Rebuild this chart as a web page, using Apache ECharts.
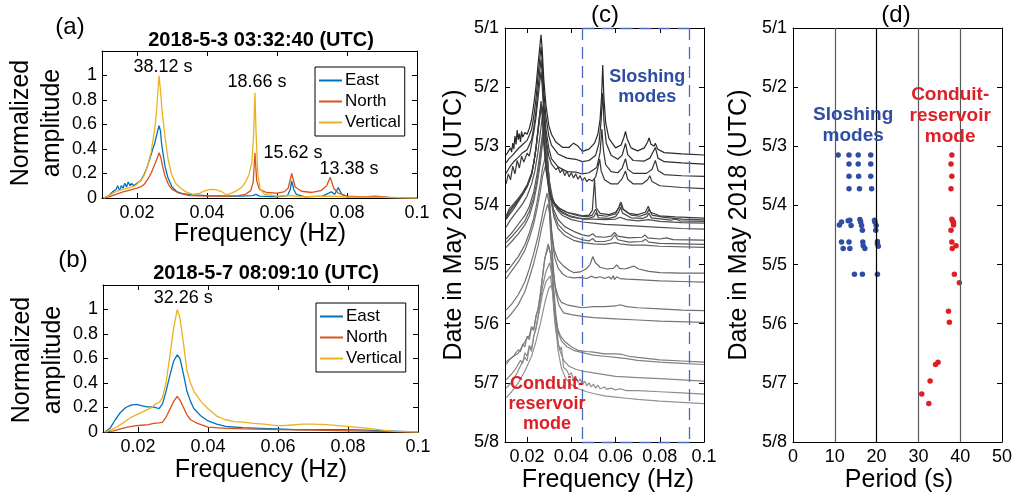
<!DOCTYPE html>
<html><head><meta charset="utf-8">
<script src="https://cdn.jsdelivr.net/npm/echarts@6/dist/echarts.min.js"></script>
<style>html,body{margin:0;padding:0;background:#fff}#c{width:1016px;height:497px}</style>
</head><body><div id="c"></div>
<script>
// ---------------- DATA ----------------
const freqTicks = [0.02, 0.04, 0.06, 0.08, 0.1];
const ampTicks = [0, 0.2, 0.4, 0.6, 0.8, 1];
const dateTicks = [1, 2, 3, 4, 5, 6, 7, 8];
const dateTickLabels = ['5/1','5/2','5/3','5/4','5/5','5/6','5/7','5/8'];
const periodTicks = [0, 10, 20, 30, 40, 50];
const periodGuideLines = [10, 20, 30, 40];
const componentNames = ['East', 'North', 'Vertical'];
const titleA = '2018-5-3 03:32:40 (UTC)';
const titleB = '2018-5-7 08:09:10 (UTC)';

// (a) spectra [frequency Hz, normalized amplitude]
const eastA = [[0.0105,0],[0.012,0.02],[0.013,0.05],[0.014,0.07],[0.0145,0.1],[0.015,0.06],[0.0155,0.1],[0.016,0.08],[0.0165,0.12],[0.017,0.09],[0.0175,0.13],[0.018,0.1],[0.0185,0.12],[0.019,0.1],[0.0195,0.11],[0.02,0.12],[0.021,0.14],[0.022,0.19],[0.023,0.26],[0.024,0.35],[0.0245,0.4],[0.025,0.44],[0.0255,0.5],[0.026,0.56],[0.0263,0.59],[0.0267,0.55],[0.027,0.45],[0.0275,0.35],[0.028,0.26],[0.0288,0.17],[0.03,0.09],[0.0315,0.05],[0.033,0.035],[0.036,0.025],[0.04,0.02],[0.045,0.015],[0.05,0.015],[0.053,0.02],[0.054,0.03],[0.055,0.015],[0.06,0.01],[0.063,0.02],[0.0638,0.07],[0.0642,0.14],[0.0648,0.07],[0.0655,0.03],[0.068,0.01],[0.073,0.015],[0.0748,0.04],[0.0755,0.05],[0.0765,0.03],[0.0775,0.085],[0.0785,0.03],[0.08,0.01],[0.09,0.005],[0.1,0]];
const northA = [[0.0105,0],[0.012,0.01],[0.014,0.03],[0.016,0.05],[0.018,0.065],[0.02,0.08],[0.021,0.09],[0.022,0.11],[0.023,0.15],[0.024,0.2],[0.025,0.27],[0.0257,0.32],[0.0263,0.37],[0.0268,0.33],[0.0273,0.26],[0.028,0.18],[0.029,0.11],[0.03,0.07],[0.032,0.04],[0.035,0.02],[0.04,0.015],[0.045,0.015],[0.049,0.02],[0.051,0.03],[0.0525,0.06],[0.0532,0.13],[0.0537,0.37],[0.0542,0.14],[0.055,0.07],[0.057,0.045],[0.06,0.04],[0.062,0.05],[0.0632,0.08],[0.0642,0.2],[0.0652,0.09],[0.067,0.055],[0.07,0.045],[0.0725,0.06],[0.0742,0.1],[0.0752,0.17],[0.0762,0.08],[0.0775,0.04],[0.0785,0.03],[0.08,0.015],[0.085,0.01],[0.088,0.015],[0.092,0.005],[0.1,0]];
const vertA = [[0.0105,0],[0.012,0.02],[0.0135,0.045],[0.015,0.065],[0.0165,0.075],[0.018,0.085],[0.0195,0.1],[0.021,0.14],[0.022,0.18],[0.023,0.26],[0.024,0.37],[0.025,0.55],[0.0255,0.68],[0.026,0.88],[0.0263,1.0],[0.0267,0.88],[0.0272,0.7],[0.028,0.5],[0.0288,0.33],[0.0298,0.2],[0.031,0.12],[0.0325,0.08],[0.034,0.05],[0.036,0.03],[0.038,0.04],[0.0395,0.06],[0.041,0.07],[0.0425,0.068],[0.044,0.055],[0.0456,0.025],[0.047,0.04],[0.0485,0.06],[0.05,0.09],[0.051,0.13],[0.052,0.19],[0.0528,0.29],[0.0533,0.5],[0.0537,0.86],[0.054,0.55],[0.0545,0.2],[0.0552,0.07],[0.0565,0.03],[0.06,0.015],[0.0645,0.02],[0.066,0.01],[0.075,0.015],[0.08,0.008],[0.09,0.005],[0.1,0]];
const annotA = [[0.0274,1.07,'38.12 s'],[0.0543,0.95,'18.66 s'],[0.0646,0.37,'15.62 s'],[0.0806,0.24,'13.38 s']];

// (b) spectra
const eastB = [[0.0105,0],[0.012,0.03],[0.0135,0.1],[0.015,0.16],[0.0165,0.2],[0.018,0.22],[0.0195,0.225],[0.021,0.215],[0.0225,0.205],[0.024,0.205],[0.025,0.2],[0.026,0.19],[0.027,0.23],[0.028,0.33],[0.029,0.45],[0.0302,0.58],[0.0312,0.63],[0.032,0.6],[0.033,0.47],[0.034,0.33],[0.035,0.25],[0.036,0.19],[0.038,0.13],[0.04,0.09],[0.0425,0.065],[0.045,0.045],[0.05,0.035],[0.055,0.03],[0.06,0.025],[0.065,0.02],[0.07,0.02],[0.075,0.02],[0.08,0.02],[0.085,0.015],[0.09,0.01],[0.095,0.005],[0.1,0]];
const northB = [[0.0105,0],[0.013,0.01],[0.015,0.025],[0.017,0.04],[0.019,0.05],[0.021,0.055],[0.023,0.06],[0.0245,0.07],[0.026,0.075],[0.027,0.08],[0.028,0.12],[0.029,0.18],[0.0302,0.25],[0.0312,0.29],[0.032,0.26],[0.033,0.2],[0.034,0.14],[0.035,0.1],[0.037,0.07],[0.04,0.04],[0.045,0.03],[0.05,0.025],[0.06,0.02],[0.07,0.015],[0.08,0.01],[0.09,0.005],[0.1,0]];
const vertB = [[0.0105,0],[0.0125,0.02],[0.0135,0.035],[0.015,0.06],[0.0165,0.09],[0.018,0.12],[0.0195,0.14],[0.021,0.16],[0.0225,0.18],[0.024,0.2],[0.025,0.23],[0.026,0.24],[0.027,0.28],[0.028,0.4],[0.029,0.6],[0.0302,0.85],[0.0312,1.0],[0.032,0.93],[0.033,0.72],[0.034,0.5],[0.035,0.4],[0.036,0.33],[0.038,0.25],[0.04,0.19],[0.0425,0.13],[0.045,0.1],[0.0475,0.085],[0.05,0.08],[0.053,0.07],[0.056,0.065],[0.06,0.05],[0.063,0.055],[0.067,0.065],[0.07,0.065],[0.074,0.06],[0.078,0.05],[0.082,0.04],[0.086,0.03],[0.09,0.015],[0.093,0.005],[0.1,0]];
const annotB = [[0.0329,1.095,'32.26 s']];

// (c) stacked spectra: event time (day of May) and [frequency, offset in days]
const eventDays = [3.147,3.30,3.508,3.717,4.235,4.263,4.29,4.33,4.42,4.618,4.68,4.73,5.165,5.306,5.79,5.977,6.65,6.69,6.97,7.19,7.35];
const spec01 = [[0.0105,0],[0.0115,0.06],[0.0125,0.12],[0.013,0.05],[0.0135,0.2],[0.014,0.1],[0.0145,0.32],[0.015,0.18],[0.0155,0.42],[0.016,0.26],[0.0165,0.36],[0.017,0.22],[0.0175,0.4],[0.018,0.3],[0.019,0.38],[0.02,0.35],[0.021,0.45],[0.022,0.6],[0.023,0.85],[0.024,1.15],[0.025,1.55],[0.0258,1.85],[0.0263,2.03],[0.0268,1.8],[0.0275,1.3],[0.0285,0.85],[0.0298,0.5],[0.031,0.35],[0.033,0.22],[0.036,0.13],[0.039,0.13],[0.041,0.2],[0.043,0.15],[0.045,0.06],[0.048,0.1],[0.0505,0.2],[0.052,0.35],[0.053,0.6],[0.0537,1.0],[0.0542,1.52],[0.0547,1.0],[0.0555,0.55],[0.057,0.28],[0.06,0.12],[0.0625,0.17],[0.0638,0.3],[0.0645,0.4],[0.0652,0.28],[0.067,0.12],[0.07,0.07],[0.073,0.12],[0.0745,0.22],[0.0752,0.29],[0.076,0.18],[0.0775,0.15],[0.078,0.2],[0.079,0.1],[0.082,0.04],[0.09,0.02],[0.1,0]];
const spec02 = [[0.0105,0.02],[0.012,0.1],[0.0135,0.15],[0.015,0.22],[0.0165,0.28],[0.018,0.33],[0.02,0.4],[0.022,0.58],[0.023,0.8],[0.024,1.1],[0.025,1.5],[0.0258,1.8],[0.0263,1.98],[0.0268,1.75],[0.0275,1.25],[0.0285,0.8],[0.0298,0.48],[0.031,0.32],[0.034,0.17],[0.038,0.1],[0.042,0.08],[0.045,0.04],[0.048,0.06],[0.051,0.15],[0.0525,0.35],[0.0535,0.75],[0.0542,1.2],[0.0548,0.7],[0.0558,0.35],[0.058,0.15],[0.061,0.08],[0.063,0.15],[0.0645,0.35],[0.0655,0.16],[0.068,0.06],[0.073,0.05],[0.0755,0.1],[0.078,0.28],[0.0792,0.1],[0.082,0.04],[0.09,0.02],[0.1,0]];
const spec03 = [[0.0105,0.05],[0.012,0.15],[0.014,0.25],[0.016,0.32],[0.018,0.4],[0.02,0.45],[0.022,0.62],[0.023,0.82],[0.024,1.1],[0.025,1.5],[0.0258,1.8],[0.0263,1.98],[0.0268,1.75],[0.0275,1.25],[0.0285,0.8],[0.0298,0.48],[0.031,0.3],[0.034,0.16],[0.038,0.08],[0.042,0.07],[0.045,0.04],[0.048,0.06],[0.0515,0.15],[0.053,0.4],[0.0538,0.8],[0.0545,0.45],[0.0555,0.2],[0.058,0.08],[0.061,0.06],[0.063,0.14],[0.0645,0.3],[0.0655,0.12],[0.068,0.05],[0.074,0.05],[0.0765,0.12],[0.078,0.27],[0.0792,0.1],[0.082,0.03],[0.09,0.01],[0.1,0]];
const spec04 = [[0.0105,0.08],[0.0115,0.25],[0.0125,0.15],[0.0135,0.38],[0.0145,0.25],[0.0155,0.48],[0.0165,0.35],[0.0175,0.55],[0.0185,0.45],[0.02,0.6],[0.021,0.55],[0.022,0.75],[0.023,0.95],[0.024,1.2],[0.025,1.55],[0.0258,1.82],[0.0263,1.98],[0.0268,1.75],[0.0275,1.3],[0.0285,0.85],[0.0298,0.55],[0.031,0.42],[0.033,0.32],[0.034,0.36],[0.035,0.27],[0.036,0.33],[0.037,0.22],[0.038,0.3],[0.039,0.2],[0.04,0.27],[0.041,0.18],[0.042,0.25],[0.043,0.16],[0.044,0.22],[0.045,0.13],[0.046,0.19],[0.047,0.12],[0.048,0.16],[0.0495,0.13],[0.051,0.2],[0.052,0.35],[0.0528,0.5],[0.0535,0.3],[0.055,0.15],[0.058,0.08],[0.061,0.08],[0.063,0.17],[0.0645,0.3],[0.0655,0.16],[0.068,0.08],[0.072,0.08],[0.0745,0.15],[0.0755,0.22],[0.0765,0.12],[0.08,0.05],[0.09,0.02],[0.1,0]];
const spec05 = [[0.0105,0],[0.012,0.08],[0.014,0.18],[0.016,0.3],[0.018,0.42],[0.02,0.55],[0.022,0.75],[0.023,0.95],[0.024,1.2],[0.025,1.55],[0.0258,1.82],[0.0263,2.0],[0.0268,1.78],[0.0275,1.3],[0.0285,0.85],[0.0298,0.5],[0.031,0.33],[0.034,0.2],[0.038,0.12],[0.042,0.09],[0.045,0.06],[0.048,0.07],[0.0495,0.15],[0.0505,0.68],[0.0512,0.2],[0.053,0.1],[0.057,0.08],[0.06,0.12],[0.0615,0.2],[0.0622,0.28],[0.063,0.18],[0.066,0.1],[0.07,0.08],[0.0735,0.12],[0.0748,0.22],[0.0758,0.12],[0.08,0.06],[0.087,0.04],[0.1,0.02]];
const spec06 = [[0.0105,0.05],[0.012,0.15],[0.014,0.25],[0.016,0.35],[0.018,0.45],[0.02,0.58],[0.022,0.78],[0.023,0.98],[0.024,1.22],[0.025,1.55],[0.0258,1.82],[0.0265,1.98],[0.027,1.78],[0.0278,1.3],[0.0288,0.85],[0.03,0.52],[0.032,0.32],[0.035,0.2],[0.039,0.13],[0.043,0.09],[0.047,0.07],[0.0495,0.1],[0.051,0.2],[0.052,0.1],[0.056,0.08],[0.06,0.12],[0.0618,0.25],[0.0625,0.32],[0.0635,0.2],[0.067,0.1],[0.071,0.08],[0.074,0.12],[0.0752,0.2],[0.0765,0.1],[0.082,0.06],[0.09,0.03],[0.1,0.02]];
const spec07 = [[0.0105,0.1],[0.012,0.2],[0.014,0.3],[0.016,0.4],[0.018,0.5],[0.02,0.62],[0.022,0.82],[0.023,1.0],[0.024,1.25],[0.025,1.58],[0.0258,1.85],[0.0265,2.0],[0.027,1.8],[0.0278,1.32],[0.0288,0.88],[0.03,0.55],[0.032,0.34],[0.035,0.2],[0.039,0.12],[0.043,0.08],[0.047,0.06],[0.0502,0.1],[0.0512,0.17],[0.0522,0.08],[0.057,0.07],[0.06,0.1],[0.0615,0.18],[0.0622,0.26],[0.0632,0.16],[0.067,0.08],[0.072,0.07],[0.0742,0.1],[0.075,0.16],[0.0762,0.08],[0.085,0.04],[0.087,0.06],[0.089,0.03],[0.1,0.02]];
const spec08 = [[0.0105,0.15],[0.012,0.28],[0.014,0.36],[0.016,0.45],[0.018,0.55],[0.02,0.68],[0.022,0.88],[0.023,1.05],[0.024,1.3],[0.025,1.6],[0.026,1.88],[0.0268,2.0],[0.0275,1.8],[0.0283,1.3],[0.0293,0.85],[0.0305,0.52],[0.0325,0.32],[0.036,0.2],[0.04,0.13],[0.045,0.1],[0.05,0.1],[0.055,0.09],[0.06,0.1],[0.062,0.13],[0.065,0.09],[0.07,0.07],[0.075,0.09],[0.08,0.06],[0.09,0.04],[0.1,0.03]];
const spec09 = [[0.0105,0.05],[0.012,0.15],[0.014,0.25],[0.016,0.35],[0.018,0.45],[0.02,0.58],[0.022,0.78],[0.0235,1.0],[0.0248,1.3],[0.026,1.65],[0.0268,1.9],[0.0273,2.0],[0.028,1.75],[0.029,1.25],[0.03,0.85],[0.0315,0.55],[0.0335,0.35],[0.036,0.25],[0.04,0.18],[0.045,0.14],[0.05,0.12],[0.055,0.1],[0.06,0.09],[0.07,0.07],[0.08,0.05],[0.09,0.03],[0.1,0.02]];
const spec10 = [[0.0105,0.05],[0.013,0.15],[0.016,0.3],[0.019,0.45],[0.021,0.6],[0.023,0.85],[0.0245,1.15],[0.026,1.55],[0.027,1.85],[0.0277,2.0],[0.0285,1.75],[0.0295,1.25],[0.0305,0.85],[0.032,0.55],[0.034,0.38],[0.037,0.26],[0.041,0.18],[0.045,0.12],[0.048,0.1],[0.0497,0.14],[0.051,0.09],[0.055,0.08],[0.058,0.1],[0.0595,0.16],[0.061,0.1],[0.066,0.07],[0.072,0.08],[0.0733,0.12],[0.0745,0.07],[0.08,0.05],[0.083,0.07],[0.086,0.04],[0.1,0.03]];
const spec11 = [[0.0105,0.05],[0.013,0.15],[0.016,0.28],[0.019,0.42],[0.021,0.58],[0.023,0.82],[0.0245,1.1],[0.026,1.5],[0.027,1.82],[0.0278,2.0],[0.0286,1.75],[0.0296,1.25],[0.0306,0.85],[0.032,0.55],[0.034,0.36],[0.037,0.24],[0.041,0.15],[0.045,0.1],[0.048,0.08],[0.0497,0.12],[0.051,0.07],[0.055,0.07],[0.058,0.1],[0.0597,0.18],[0.061,0.1],[0.066,0.06],[0.072,0.07],[0.0735,0.11],[0.075,0.06],[0.08,0.04],[0.1,0.02]];
const spec12 = [[0.0105,0.02],[0.013,0.12],[0.016,0.25],[0.019,0.4],[0.021,0.55],[0.023,0.8],[0.0245,1.08],[0.026,1.45],[0.027,1.8],[0.028,2.0],[0.0288,1.75],[0.0298,1.25],[0.0308,0.82],[0.0322,0.52],[0.034,0.34],[0.037,0.22],[0.041,0.14],[0.045,0.1],[0.05,0.08],[0.055,0.07],[0.06,0.1],[0.062,0.08],[0.067,0.06],[0.073,0.06],[0.08,0.04],[0.1,0.02]];
const spec13 = [[0.0105,0.03],[0.013,0.15],[0.016,0.3],[0.019,0.5],[0.021,0.7],[0.023,0.95],[0.0245,1.22],[0.026,1.55],[0.027,1.8],[0.0283,2.0],[0.0292,1.8],[0.03,1.3],[0.031,0.75],[0.0322,0.42],[0.034,0.24],[0.0365,0.14],[0.039,0.07],[0.041,0.03],[0.044,0.04],[0.047,0.1],[0.0485,0.17],[0.0497,0.3],[0.0508,0.2],[0.053,0.12],[0.056,0.09],[0.059,0.1],[0.0605,0.16],[0.0618,0.1],[0.064,0.09],[0.066,0.11],[0.0682,0.14],[0.0705,0.09],[0.075,0.05],[0.08,0.03],[0.09,0.02],[0.1,0.02]];
const spec14 = [[0.0105,0.07],[0.013,0.2],[0.016,0.35],[0.019,0.55],[0.021,0.75],[0.023,1.0],[0.0245,1.25],[0.026,1.55],[0.027,1.8],[0.0285,2.0],[0.0295,1.8],[0.0303,1.3],[0.0313,0.75],[0.0325,0.42],[0.034,0.25],[0.036,0.15],[0.038,0.1],[0.041,0.08],[0.044,0.09],[0.047,0.07],[0.049,0.11],[0.051,0.08],[0.053,0.1],[0.055,0.07],[0.057,0.1],[0.058,0.06],[0.059,0.12],[0.0595,0.05],[0.0605,0.1],[0.062,0.07],[0.065,0.06],[0.07,0.05],[0.08,0.03],[0.09,0.02],[0.1,0.01]];
const spec15 = [[0.0105,0.02],[0.013,0.12],[0.016,0.28],[0.019,0.5],[0.021,0.72],[0.023,0.98],[0.025,1.28],[0.0265,1.55],[0.0278,1.8],[0.029,2.0],[0.0298,1.85],[0.0305,1.4],[0.0315,0.8],[0.0325,0.45],[0.034,0.25],[0.0355,0.15],[0.038,0.11],[0.042,0.08],[0.045,0.06],[0.05,0.08],[0.055,0.08],[0.06,0.09],[0.062,0.11],[0.065,0.08],[0.07,0.06],[0.08,0.04],[0.09,0.02],[0.1,0.01]];
const spec16 = [[0.0105,0.05],[0.013,0.15],[0.016,0.3],[0.019,0.52],[0.021,0.75],[0.023,1.0],[0.025,1.3],[0.0265,1.58],[0.028,1.82],[0.0293,2.0],[0.0302,1.85],[0.031,1.4],[0.032,0.85],[0.033,0.5],[0.0345,0.28],[0.0365,0.16],[0.04,0.13],[0.045,0.1],[0.05,0.08],[0.06,0.06],[0.07,0.04],[0.08,0.02],[0.1,0]];
const spec17 = [[0.0105,0],[0.012,0.05],[0.014,0.1],[0.016,0.15],[0.018,0.28],[0.0195,0.38],[0.021,0.45],[0.022,0.6],[0.023,0.55],[0.024,0.78],[0.025,0.9],[0.026,1.15],[0.027,1.45],[0.028,1.75],[0.0295,2.0],[0.0305,1.85],[0.0315,1.4],[0.0325,0.9],[0.0335,0.6],[0.035,0.45],[0.037,0.35],[0.04,0.26],[0.043,0.2],[0.047,0.18],[0.05,0.17],[0.055,0.14],[0.06,0.14],[0.063,0.13],[0.066,0.1],[0.07,0.08],[0.08,0.04],[0.09,0.02],[0.1,0]];
const spec18 = [[0.0105,0],[0.012,0.08],[0.014,0.15],[0.016,0.25],[0.017,0.22],[0.018,0.35],[0.019,0.3],[0.02,0.48],[0.021,0.42],[0.022,0.62],[0.023,0.58],[0.024,0.8],[0.025,0.95],[0.026,1.2],[0.027,1.5],[0.028,1.8],[0.0298,2.0],[0.031,1.8],[0.032,1.3],[0.033,0.85],[0.034,0.55],[0.0355,0.4],[0.038,0.3],[0.041,0.24],[0.045,0.2],[0.05,0.16],[0.055,0.14],[0.06,0.12],[0.065,0.1],[0.07,0.07],[0.08,0.04],[0.09,0.02],[0.1,0]];
const spec19 = [[0.0105,0.02],[0.013,0.12],[0.015,0.22],[0.017,0.35],[0.018,0.3],[0.019,0.48],[0.02,0.42],[0.021,0.6],[0.022,0.55],[0.023,0.75],[0.024,0.9],[0.025,1.1],[0.026,1.35],[0.027,1.6],[0.0285,1.85],[0.0302,2.0],[0.0312,1.8],[0.032,1.3],[0.033,0.85],[0.0345,0.55],[0.0365,0.35],[0.039,0.25],[0.042,0.2],[0.045,0.17],[0.05,0.14],[0.055,0.11],[0.06,0.08],[0.07,0.06],[0.08,0.04],[0.09,0.02],[0.1,0]];
const spec20 = [[0.0105,0.1],[0.013,0.2],[0.015,0.32],[0.017,0.48],[0.019,0.62],[0.02,0.56],[0.021,0.8],[0.022,0.72],[0.023,0.98],[0.024,1.1],[0.025,1.3],[0.026,1.5],[0.027,1.7],[0.0285,1.9],[0.0305,2.0],[0.0315,1.75],[0.0323,1.3],[0.033,1.1],[0.0335,1.2],[0.034,0.85],[0.035,0.75],[0.0355,0.8],[0.0365,0.45],[0.038,0.4],[0.039,0.32],[0.04,0.36],[0.041,0.25],[0.042,0.3],[0.043,0.2],[0.044,0.26],[0.045,0.17],[0.046,0.22],[0.047,0.14],[0.048,0.19],[0.049,0.12],[0.05,0.17],[0.051,0.1],[0.052,0.15],[0.053,0.09],[0.055,0.12],[0.056,0.08],[0.058,0.1],[0.06,0.07],[0.062,0.09],[0.065,0.06],[0.07,0.06],[0.08,0.04],[0.09,0.02],[0.1,0]];
const spec21 = [[0.0105,0.1],[0.013,0.2],[0.016,0.35],[0.019,0.55],[0.022,0.8],[0.024,1.05],[0.026,1.35],[0.028,1.7],[0.0298,1.95],[0.031,2.0],[0.032,1.75],[0.033,1.3],[0.034,0.9],[0.0355,0.6],[0.0375,0.42],[0.04,0.32],[0.043,0.25],[0.047,0.2],[0.05,0.17],[0.055,0.13],[0.06,0.11],[0.065,0.09],[0.07,0.07],[0.08,0.04],[0.09,0.02],[0.1,0]];
const stackedSpectra = [spec01,spec02,spec03,spec04,spec05,spec06,spec07,spec08,spec09,spec10,spec11,spec12,spec13,spec14,spec15,spec16,spec17,spec18,spec19,spec20,spec21];
const sloshingBand = [0.045, 0.0935];

// (d) picked periods [period s, day of May]
const sloshingPeriods = [[10.8,3.147],[13.4,3.147],[15.6,3.147],[18.6,3.147],[13.4,3.30],[15.6,3.30],[18.6,3.30],[13.4,3.508],[15.7,3.508],[18.6,3.508],[13.4,3.717],[15.9,3.717],[18.8,3.717],
 [11.1,4.33],[11.6,4.28],[13.2,4.26],[13.6,4.25],[13.9,4.34],[16.0,4.24],[16.2,4.28],[16.4,4.34],[16.6,4.42],[19.5,4.25],[19.6,4.28],[19.9,4.34],[19.8,4.42],
 [11.6,4.62],[13.4,4.62],[12.0,4.73],[13.6,4.73],[16.7,4.62],[16.8,4.68],[17.2,4.73],[20.2,4.61],[20.2,4.65],[20.4,4.69],
 [14.7,5.165],[16.6,5.165],[20.2,5.165]];
const conduitPeriods = [[38.0,3.147],[37.8,3.30],[38.0,3.508],[37.8,3.717],[38.0,4.235],[38.2,4.263],[38.4,4.29],[38.4,4.33],[37.8,4.42],[38.0,4.618],[39.0,4.68],[38.1,4.73],[38.6,5.165],[39.8,5.306],[37.2,5.79],[37.4,5.977],[34.7,6.65],[34.1,6.69],[32.8,6.97],[30.8,7.19],[32.5,7.35]];

// text annotations anchored at data coordinates
const textC = [[0.0743,2.0,'Sloshing\nmodes','blue'],[0.029,7.35,'Conduit-\nreservoir\nmode','red']];
const textD = [[14.4,2.64,'Sloshing\nmodes','blue'],[37.6,2.49,'Conduit-\nreservoir\nmode','red']];

// ---------------- STYLE ----------------
const FONT = '"Liberation Sans", Arial, Helvetica, sans-serif';
const COLORS = {East:'#0072BD', North:'#D95319', Vertical:'#EDB120', blue:'#2F4EA3', red:'#DD1F26', dash:'#4A6CC0'};

const grids = [
  {left:102, top:51, width:315, height:147},
  {left:103, top:285, width:315, height:147},
  {left:505, top:28, width:199, height:414},
  {left:793, top:28, width:209, height:414}
];

function fmtFreq(v){ return Math.abs(v-0.1)<1e-9 ? '0.1' : v.toFixed(2); }
function axisBase(gridIndex, position, showLabel){
  return {
    gridIndex, position,
    axisLine:{show:true, onZero:false, lineStyle:{color:'#000', width:1}},
    axisTick:{show:true, inside:true, length:5, lineStyle:{color:'#000', width:1}},
    axisLabel:{show:showLabel, fontSize:18, color:'#000', fontFamily:FONT, margin:6, hideOverlap:false, showMinLabel:true, showMaxLabel:true},
    splitLine:{show:false}
  };
}
function freqX(gi, pos, show){
  const a = axisBase(gi, pos, show);
  a.type='value'; a.min=0.01; a.max=0.1;
  a.axisTick.customValues = freqTicks;
  a.axisLabel.customValues = freqTicks;
  a.axisLabel.formatter = fmtFreq;
  return a;
}
function ampY(gi, pos, show){
  const a = axisBase(gi, pos, show);
  a.type='value'; a.min=0; a.max=1.2;
  a.axisTick.customValues = ampTicks;
  a.axisLabel.customValues = ampTicks;
  a.axisLabel.formatter = v => String(+v.toFixed(1));
  a.axisLabel.margin = 5;
  return a;
}
function dateY(gi, pos, show){
  const a = axisBase(gi, pos, show);
  a.type='value'; a.min=1; a.max=8; a.interval=1; a.inverse=true;
  a.axisLabel.formatter = v => dateTickLabels[dateTicks.indexOf(Math.round(v))] || '';
  return a;
}
function periodX(gi, pos, show){
  const a = axisBase(gi, pos, show);
  a.type='value'; a.min=0; a.max=50; a.interval=10;
  a.axisTick.show = pos==='bottom';
  return a;
}

const xAxis = [freqX(0,'bottom',true), freqX(0,'top',false), freqX(1,'bottom',true), freqX(1,'top',false),
               freqX(2,'bottom',true), freqX(2,'top',false), periodX(3,'bottom',true), periodX(3,'top',false)];
const yAxis = [ampY(0,'left',true), ampY(0,'right',false), ampY(1,'left',true), ampY(1,'right',false),
               dateY(2,'left',true), dateY(2,'right',false), dateY(3,'left',true), dateY(3,'right',false)];

const series = [];
function specSeries(name, data, xi, yi){
  return {type:'line', name, data, xAxisIndex:xi, yAxisIndex:yi, showSymbol:false, symbol:'none',
    lineStyle:{width:1.3, color:COLORS[name]}, itemStyle:{color:COLORS[name]}, silent:true, z:3};
}
[['East',eastA],['North',northA],['Vertical',vertA]].forEach(([n,d]) => series.push(specSeries(n,d,0,0)));
const idxA = 0;
[['East',eastB],['North',northB],['Vertical',vertB]].forEach(([n,d]) => series.push(specSeries(n,d,2,2)));
const idxB = 3;

// (c) stacked spectra, latest first so earliest (darkest) on top
const idxC = series.length;
for (let i = stackedSpectra.length - 1; i >= 0; i--) {
  const base = eventDays[i];
  const g = Math.round(40 + i * 5.3);
  const col = 'rgb(' + g + ',' + g + ',' + g + ')';
  series.push({type:'line', data: stackedSpectra[i].map(p => [p[0], base - p[1]]),
    xAxisIndex:4, yAxisIndex:4, showSymbol:false, symbol:'none', silent:true,
    lineStyle:{width:1.2, color:col}, z:2});
}
// sloshing band dashed box
series.push({type:'line', data:[], xAxisIndex:4, yAxisIndex:4, silent:true, z:5,
  markLine:{silent:true, symbol:'none', label:{show:false}, animation:false,
    lineStyle:{type:[12,7], color:COLORS.dash, width:1.3},
    data:[
      [{coord:[sloshingBand[0],1]},{coord:[sloshingBand[0],8]}],
      [{coord:[sloshingBand[1],1]},{coord:[sloshingBand[1],8]}],
      [{coord:[sloshingBand[0],1]},{coord:[sloshingBand[1],1]}],
      [{coord:[sloshingBand[0],8]},{coord:[sloshingBand[1],8]}]
    ]}});

// (d)
const idxD = series.length;
series.push({type:'scatter', data:sloshingPeriods, xAxisIndex:6, yAxisIndex:6, symbolSize:5.5, silent:true,
  itemStyle:{color:COLORS.blue, opacity:1}, z:4,
  markLine:{silent:true, symbol:'none', label:{show:false}, animation:false,
    data: periodGuideLines.map(v => ({xAxis:v, lineStyle:{type:'solid', width:1.2, color: v===20 ? '#000' : '#5a5a5a'}}))}});
series.push({type:'scatter', data:conduitPeriods, xAxisIndex:6, yAxisIndex:6, symbolSize:5.5, silent:true,
  itemStyle:{color:COLORS.red, opacity:1}, z:4});

function legendAt(left, top){
  return {left, top, orient:'vertical', data:componentNames, icon:'rect', itemWidth:23, itemHeight:2, itemGap:4,
    padding:[5,4,5,4], borderColor:'#000', borderWidth:1, backgroundColor:'#fff', selectedMode:false,
    textStyle:{fontSize:17, color:'#000', fontFamily:FONT, lineHeight:17, padding:[0,0,0,-2]}};
}

function txt(x, y, text, size, opts){
  opts = opts || {};
  return {type:'text', x, y, rotation: opts.rot || 0, silent:true, z:20,
    style:{text, fontSize:size, fontFamily:FONT, fontWeight: opts.weight || 'normal', fill: opts.fill || '#000',
      align:'center', verticalAlign:'middle', lineHeight: opts.lh || size}};
}
const R = Math.PI/2;
const graphic = [
  txt(70, 27, '(a)', 24), txt(73, 260, '(b)', 24), txt(605, 15, '(c)', 24), txt(896, 15, '(d)', 24),
  txt(261, 40, titleA, 20, {weight:'bold'}), txt(266, 273, titleB, 20, {weight:'bold'}),
  txt(37, 123, 'Normalized\namplitude', 25, {rot:R, lh:31}),
  txt(38, 360, 'Normalized\namplitude', 25, {rot:R, lh:31}),
  txt(260, 234, 'Frequency (Hz)', 25), txt(261, 470, 'Frequency (Hz)', 25),
  txt(608, 480, 'Frequency (Hz)', 25), txt(899, 480, 'Period (s)', 25),
  txt(454, 225, 'Date in May 2018 (UTC)', 25, {rot:R}),
  txt(739, 225, 'Date in May 2018 (UTC)', 25, {rot:R})
];

const chart = echarts.init(document.getElementById('c'), null, {renderer:'canvas'});
chart.setOption({
  animation:false,
  backgroundColor:'#fff',
  textStyle:{fontFamily:FONT},
  grid: grids,
  xAxis, yAxis, series,
  legend:[legendAt(315,67), legendAt(316,303)]
});

// data-anchored annotation texts, positioned through the axes' scales
function anchored(items, seriesIndex, size, weight, lh){
  return items.map(it => {
    const p = chart.convertToPixel({seriesIndex}, [it[0], it[1]]);
    return txt(p[0], p[1], it[2], size, {weight, lh, fill: it[3] ? COLORS[it[3]] : '#000'});
  });
}
graphic.push(...anchored(annotA, idxA, 18, 'normal', 20));
graphic.push(...anchored(annotB, idxB, 18, 'normal', 20));
graphic.push(...anchored(textC, idxC, 18, 'bold', 20));
graphic.push(...anchored(textD, idxD, 19, 'bold', 21));
chart.setOption({graphic});
</script></body></html>
